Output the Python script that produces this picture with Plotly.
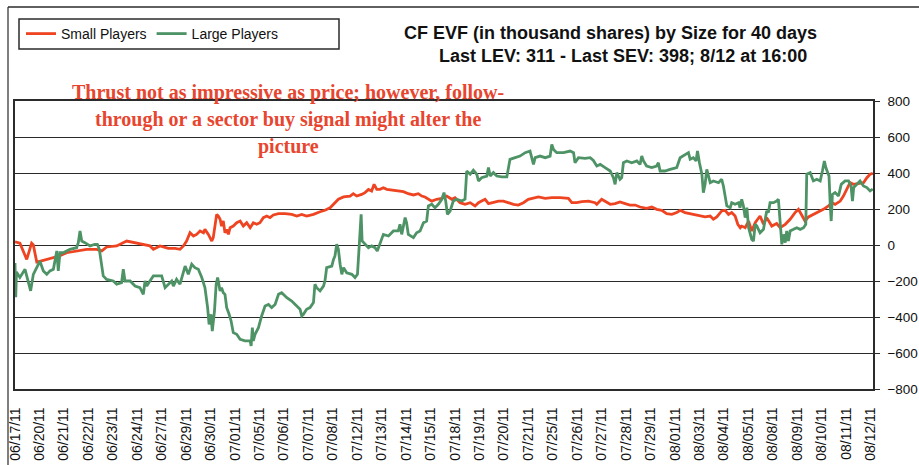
import plotly.graph_objects as go

# Category (trading day) labels along the x axis
date_labels = ["06/17/11", "06/20/11", "06/21/11", "06/22/11", "06/23/11", "06/24/11",
               "06/27/11", "06/29/11", "06/30/11", "07/01/11", "07/05/11", "07/06/11",
               "07/07/11", "07/08/11", "07/12/11", "07/13/11", "07/14/11", "07/15/11",
               "07/18/11", "07/19/11", "07/20/11", "07/21/11", "07/25/11", "07/26/11",
               "07/27/11", "07/28/11", "07/29/11", "08/01/11", "08/03/11", "08/04/11",
               "08/05/11", "08/08/11", "08/09/11", "08/10/11", "08/11/11", "08/12/11"]

# Small Players (SEV) – position in day units, value in thousand shares
small_x = [0, 0.2, 0.48, 0.68, 0.75, 0.89, 1.16, 1.57, 1.84, 2.11, 2.52, 2.93, 3.34, 3.55, 3.75,
           4.16, 4.57, 4.71, 5.11, 5.52, 5.66, 5.93, 6.07, 6.27, 6.55, 6.75, 6.89, 7.02, 7.16,
           7.30, 7.43, 7.57, 7.71, 7.77, 7.91, 8.05, 8.11, 8.18, 8.25, 8.32, 8.39, 8.45, 8.52,
           8.59, 8.66, 8.73, 8.80, 8.93, 9.07, 9.21, 9.34, 9.48, 9.62, 9.75, 9.89, 10.02, 10.16,
           10.30, 10.43, 10.57, 10.78, 11.05, 11.32, 11.53, 11.73, 11.93, 12.21, 12.48, 12.68,
           12.89, 13.03, 13.23, 13.44, 13.71, 13.84, 13.98, 14.18, 14.32, 14.46, 14.59, 14.69,
           14.80, 14.93, 15.07, 15.21, 15.41, 15.62, 15.89, 16.09, 16.30, 16.50, 16.64, 16.77,
           16.91, 17.05, 17.25, 17.46, 17.66, 17.87, 18.0, 18.21, 18.41, 18.62, 18.82, 18.96,
           19.09, 19.23, 19.37, 19.57, 19.78, 19.98, 20.19, 20.39, 20.59, 20.80, 21.00, 21.21,
           21.41, 21.69, 21.96, 22.30, 22.64, 22.78, 22.98, 23.19, 23.46, 23.73, 23.80, 24.0,
           24.14, 24.35, 24.55, 24.75, 24.96, 25.16, 25.37, 25.57, 25.84, 26.05, 26.25, 26.46,
           26.66, 26.87, 27.07, 27.21, 27.41, 27.62, 27.82, 28.03, 28.23, 28.44, 28.57, 28.71,
           28.91, 29.05, 29.19, 29.32, 29.46, 29.57, 29.67, 29.73, 29.87, 30.01, 30.14, 30.28,
           30.48, 30.62, 30.75, 30.96, 31.16, 31.30, 31.51, 31.71, 31.91, 32.05, 32.19, 32.32,
           32.46, 32.66, 32.87, 33.07, 33.28, 33.41, 33.55, 33.76, 33.89, 34.03, 34.16, 34.30,
           34.51, 34.71, 34.85, 34.98, 35.09]
small_y = [18, 10, -80, 10, 0, -95, -85, -70, -60, -43, -33, -24, -24, -33, -11,
           -5, 22, 18, 7, -5, -24, -5, -10, -19, -19, -24, -5, 22, 68,
           50, 59, 78, 68, 87, 59, 22, 41, 105, 170, 161, 143, 105, 133,
           68, 87, 59, 96, 105, 124, 133, 105, 124, 96, 124, 115, 124, 152,
           161, 152, 167, 174, 174, 170, 161, 170, 161, 170, 185, 193,
           207, 226, 254, 267, 272, 285, 272, 281, 291, 309, 300, 337,
           309, 309, 318, 309, 304, 300, 296, 285, 278, 285, 272, 267,
           254, 244, 254, 259, 272, 254, 263, 235, 226, 235, 217, 235,
           244, 254, 230, 235, 244, 244, 235, 226, 222, 235, 254, 259,
           267, 259, 263, 263, 259, 235, 235, 241, 244, 235, 226, 254,
           244, 226, 230, 239, 230, 222, 222, 211, 204, 211, 198, 193,
           174, 170, 180, 193, 180, 174, 170, 161, 156, 161, 143, 156,
           189, 193, 170, 180, 161, 115, 96, 105, 96, 133, 78, 124,
           161, 115, 152, 105, 119, 96, 115, 143, 180, 198, 161, 133,
           156, 170, 180, 198, 217, 235, 226, 244, 272, 309, 346, 337,
           341, 346, 374, 393, 398]

# Large Players (LEV)
large_x = [0, 0.03, 0.06, 0.2, 0.41, 0.55, 0.64, 0.75, 0.89, 1.02, 1.16, 1.30, 1.43, 1.57, 1.71,
           1.77, 1.84, 1.98, 2.11, 2.25, 2.52, 2.59, 2.66, 2.73, 2.86, 3.07, 3.27, 3.37, 3.45,
           3.51, 3.61, 3.75, 4.02, 4.16, 4.36, 4.43, 4.50, 4.71, 4.91, 5.11, 5.25, 5.32, 5.39,
           5.52, 5.66, 5.93, 6.0, 6.14, 6.27, 6.41, 6.48, 6.61, 6.75, 6.82, 6.96, 7.09, 7.23,
           7.36, 7.50, 7.64, 7.77, 7.88, 7.94, 8.02, 8.07, 8.16, 8.23, 8.29, 8.39, 8.45, 8.52,
           8.59, 8.66, 8.76, 8.84, 8.93, 9.07, 9.21, 9.41, 9.62, 9.66, 9.71, 9.75, 9.82, 9.96,
           10.09, 10.23, 10.37, 10.50, 10.64, 10.78, 10.91, 11.12, 11.32, 11.53, 11.66, 11.73,
           11.80, 11.93, 12.07, 12.21, 12.27, 12.34, 12.48, 12.62, 12.68, 12.75, 12.96, 13.03,
           13.09, 13.16, 13.23, 13.30, 13.37, 13.44, 13.57, 13.78, 13.91, 14.01, 14.05, 14.12,
           14.16, 14.20, 14.32, 14.46, 14.59, 14.73, 14.82, 14.93, 15.07, 15.28, 15.48, 15.68,
           15.75, 15.82, 15.96, 16.02, 16.09, 16.30, 16.43, 16.57, 16.71, 16.84, 16.91, 17.05,
           17.18, 17.32, 17.46, 17.55, 17.62, 17.69, 17.80, 17.93, 18.07, 18.28, 18.41, 18.48,
           18.62, 18.75, 18.89, 18.96, 19.09, 19.30, 19.37, 19.44, 19.57, 19.71, 19.91, 20.12,
           20.19, 20.25, 20.46, 20.66, 20.87, 21.07, 21.21, 21.28, 21.48, 21.69, 21.89, 21.96,
           22.03, 22.16, 22.44, 22.71, 22.85, 22.91, 23.05, 23.32, 23.53, 23.66, 23.80, 23.94,
           24.14, 24.35, 24.48, 24.55, 24.62, 24.75, 24.82, 24.89, 25.03, 25.23, 25.44, 25.57,
           25.64, 25.71, 25.84, 26.05, 26.25, 26.32, 26.39, 26.59, 26.80, 27.07, 27.21, 27.41,
           27.55, 27.62, 27.75, 27.86, 27.92, 28.0, 28.10, 28.16, 28.23, 28.30, 28.37, 28.44,
           28.57, 28.78, 28.91, 28.98, 29.12, 29.26, 29.32, 29.46, 29.60, 29.66, 29.73, 29.80,
           29.87, 29.94, 30.01, 30.14, 30.21, 30.28, 30.35, 30.48, 30.62, 30.75, 30.82, 30.89,
           31.03, 31.16, 31.23, 31.30, 31.34, 31.37, 31.44, 31.51, 31.57, 31.64, 31.71, 31.85,
           31.98, 32.12, 32.26, 32.35, 32.39, 32.53, 32.66, 32.80, 32.94, 33.03, 33.11, 33.17,
           33.25, 33.30, 33.35, 33.39, 33.44, 33.55, 33.69, 33.80, 33.96, 34.10, 34.20, 34.26,
           34.31, 34.44, 34.57, 34.71, 34.85, 34.98, 35.09]
large_y = [-100, -290, -150, -180, -135, -200, -255, -163, -126, -90, -144, -163, -144, -135, -33,
           -144, -43, -43, -33, -24, -15, 13, 78, 22, 13, -5, 4, 4, -24,
           -89, -172, -191, -200, -218, -209, -135, -200, -200, -228, -237, -274, -200, -228,
           -200, -172, -172, -172, -237, -218, -200, -228, -191, -218, -181, -117, -163, -107,
           -126, -135, -181, -237, -348, -441, -385, -478, -367, -218, -181, -255, -237, -265,
           -274, -348, -385, -422, -487, -496, -524, -533, -533, -561, -459, -533, -496, -459,
           -394, -339, -330, -348, -330, -274, -265, -293, -311, -339, -357, -394,
           -385, -357, -348, -320, -218, -237, -255, -228, -200, -126, -117, -80,
           -61, 4, -24, -107, -163, -126, -154, -163, -181, -163, -89, 59,
           170, 22, 4, -15, -5, -15, -33, 4, 59, 50, 78, 78,
           115, 59, 152, 124, 59, 41, 68, 78, 124, 133, 217, 226,
           207, 226, 254, 291, 244, 170, 189, 244, 254, 244, 254, 411,
           393, 415, 393, 356, 374, 383, 430, 383, 402, 383, 378, 378,
           430, 476, 485, 494, 513, 522, 448, 485, 494, 485, 494, 559,
           531, 513, 513, 522, 513, 457, 485, 481, 485, 470, 439, 448,
           430, 411, 374, 337, 402, 365, 374, 457, 467, 457, 467, 448,
           494, 467, 439, 430, 439, 457, 411, 411, 420, 430, 485, 504,
           513, 476, 485, 467, 522, 457, 393, 291, 337, 420, 374, 346,
           356, 346, 365, 328, 217, 207, 235, 226, 235, 207, 254, 217,
           152, 207, 96, 31, 22, 115, 105, 68, 87, 189, 180, 235,
           235, 244, 254, 152, 59, 4, 59, 13, 78, 22, 78, 87,
           96, 87, 96, 115, 393, 402, 356, 365, 356, 411, 467, 430,
           393, 383, 226, 133, 281, 291, 272, 337, 356, 356, 328, 244,
           319, 337, 356, 328, 319, 300, 311]

title_lines = ["CF EVF (in thousand shares) by Size for 40 days",
               "Last LEV: 311 - Last SEV: 398; 8/12 at 16:00"]
note_lines = ["Thrust not as impressive as price; however, follow-",
              "through or a sector buy signal might alter the",
              "picture"]

RED = "#EE4422"
GREEN = "#4E9366"
LINE = "#2b2b2b"

fig = go.Figure()
fig.add_trace(go.Scatter(x=small_x, y=small_y, mode="lines", name="Small Players",
                         line=dict(color=RED, width=2.8)))
fig.add_trace(go.Scatter(x=large_x, y=large_y, mode="lines", name="Large Players",
                         line=dict(color=GREEN, width=2.8)))

W, H = 919, 465
L, R, T, B = 15, 46, 101, 76
pw, ph = W - L - R, H - T - B


def px(xp):
    return (xp - L) / pw


def py(yp):
    return (H - B - yp) / ph


fig.update_layout(
    width=W, height=H,
    margin=dict(l=L, r=R, t=T, b=B, pad=0, autoexpand=False),
    paper_bgcolor="white", plot_bgcolor="white",
    font=dict(family="Liberation Sans, Arial, sans-serif", color="#111"),
    showlegend=True,
    legend=dict(orientation="h", x=px(21), y=py(34), xanchor="left", yanchor="middle",
                font=dict(size=14, color="#111"), bgcolor="rgba(0,0,0,0)",
                itemwidth=30, tracegroupgap=0),
    xaxis=dict(range=[0, 35.1], tickmode="array", tickvals=list(range(len(date_labels))),
               ticktext=date_labels, tickangle=-90, showgrid=False, zeroline=False,
               showline=True, linecolor=LINE, linewidth=1.5, mirror=True,
               ticks="", ticklabelstandoff=11, tickfont=dict(size=14, color="#111")),
    yaxis=dict(range=[-800, 800], dtick=200, side="right", showgrid=True,
               gridcolor=LINE, gridwidth=1.4, zeroline=False,
               showline=True, linecolor=LINE, linewidth=1.5, mirror=True,
               ticks="outside", ticklen=5, tickcolor=LINE, tickwidth=1.4,
               ticklabelstandoff=5, tickfont=dict(size=13.5, color="#111")),
)

shapes = [
    # legend box
    dict(type="rect", xref="paper", yref="paper", x0=px(19), x1=px(339), y0=py(49), y1=py(19),
         line=dict(color=LINE, width=1.5)),
    # outer frame (left and top)
    dict(type="line", xref="paper", yref="paper", x0=px(8), x1=px(8), y0=py(470), y1=py(7),
         line=dict(color="#555", width=1.5)),
    dict(type="line", xref="paper", yref="paper", x0=px(8), x1=px(925), y0=py(7), y1=py(7),
         line=dict(color=LINE, width=1.5)),
]
fig.update_layout(shapes=shapes)

annotations = [
    dict(text="<b>%s</b>" % title_lines[0], x=px(610), y=py(33), xref="paper", yref="paper",
         xanchor="center", yanchor="middle", showarrow=False,
         font=dict(size=18, color="#111")),
    dict(text="<b>%s</b>" % title_lines[1], x=px(623), y=py(56), xref="paper", yref="paper",
         xanchor="center", yanchor="middle", showarrow=False,
         font=dict(size=18, color="#111")),
]
for line, yc in zip(note_lines, [92, 119, 146]):
    annotations.append(dict(text="<b>%s</b>" % line, x=px(288), y=py(yc), xref="paper", yref="paper",
                            xanchor="center", yanchor="middle", showarrow=False,
                            font=dict(size=20, color="#E8452F",
                                      family="Liberation Serif, Times New Roman, serif")))
fig.update_layout(annotations=annotations)

fig.write_html("out.html", config={"displayModeBar": False},
               post_script="document.body.style.margin='0px';document.body.style.padding='0px';")
